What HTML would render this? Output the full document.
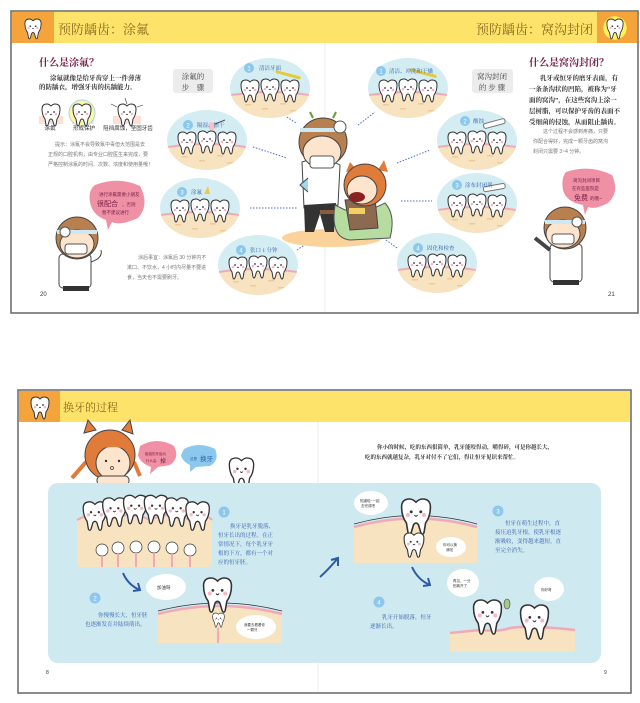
<!DOCTYPE html>
<html><head><meta charset="utf-8"><style>
html,body{margin:0;padding:0;background:#fff;}
svg{display:block;font-family:"Liberation Sans","Noto Sans CJK SC",sans-serif;}
.t{font-family:"Liberation Serif","Noto Serif CJK SC",serif;}
</style></head><body>
<svg width="640" height="703" viewBox="0 0 640 703" xmlns="http://www.w3.org/2000/svg">
<defs>
<path id="tooth" d="M1,5 Q1,0 6,0 Q8,0 10,2 Q12,0 14,0 Q19,0 19,5 Q19,11 16,15 L15,21 Q14,23 13,21 L11.5,16 Q10,14 8.5,16 L7,21 Q6,23 5,21 L4,15 Q1,11 1,5Z" fill="#fff" stroke="#333" stroke-width="1"/>
<g id="face"><circle cx="7" cy="8" r="0.9" fill="#333"/><circle cx="13" cy="8" r="0.9" fill="#333"/><path d="M9,10 Q10,11.5 11,10" fill="none" stroke="#333" stroke-width="0.7"/><circle cx="5" cy="10" r="1.3" fill="#f6b8c4"/><circle cx="15" cy="10" r="1.3" fill="#f6b8c4"/></g>
<g id="tf"><use href="#tooth"/><use href="#face"/></g>
<clipPath id="ell"><ellipse cx="0" cy="0" rx="40" ry="30"/></clipPath>
<g id="bub">
 <ellipse cx="0" cy="0" rx="40" ry="30" fill="#d3edf3"/>
 <g clip-path="url(#ell)">
  <path d="M-45,8 Q0,0 45,8 L45,40 L-45,40Z" fill="#f8e3c0"/>
  <path d="M-45,8 Q0,0 45,8" fill="none" stroke="#f2a9b7" stroke-width="2"/>
  <g fill="#efc99a"><rect x="-25" y="16" width="6" height="1.5"/><rect x="-8" y="20" width="6" height="1.5"/><rect x="10" y="15" width="6" height="1.5"/><rect x="20" y="22" width="6" height="1.5"/></g>
 </g>
 <use href="#tf" x="-30" y="-8"/><use href="#tf" x="-10" y="-9"/><use href="#tf" x="10" y="-8"/>
</g>
</defs>

<!-- ============ TOP SPREAD ============ -->
<rect x="11" y="11" width="627" height="302" fill="#fff" stroke="#666" stroke-width="1.5"/>
<rect x="12" y="12" width="625" height="31" fill="#fde36a"/>
<rect x="12" y="12" width="42" height="31" fill="#f4a43a"/>
<rect x="597" y="12" width="40" height="31" fill="#f4a43a"/>
<g transform="translate(24,19) scale(0.9)"><use href="#tf"/></g>
<g transform="translate(606,19) scale(0.9)"><circle cx="10" cy="10" r="13" fill="#fff35a"/><use href="#tf"/></g>
<text x="58" y="34" class="t" font-size="13" fill="#8a6a1e">预防龋齿：涂氟</text>
<text x="593" y="34" class="t" font-size="13" fill="#8a6a1e" text-anchor="end">预防龋齿：窝沟封闭</text>
<line x1="325" y1="43" x2="325" y2="312" stroke="#eee"/>

<text x="39" y="66" class="t" font-size="10" font-weight="bold" fill="#7a2048">什么是涂氟？</text>
<text x="50" y="80" class="t" font-size="6.5" fill="#333" font-weight="bold">涂氟就像是给牙齿穿上一件薄薄</text>
<text x="39" y="89" class="t" font-size="6.5" fill="#333" font-weight="bold">的防龋衣，增强牙齿的抗龋能力。</text>
<g transform="translate(41,104)"><path d="M-2,12 L22,12 L22,20 L-2,20Z" fill="#fbe0d8"/><use href="#tf"/></g>
<g transform="translate(72,104)"><path d="M0,12 L22,12 L22,20 L0,20Z" fill="#fbe0d8"/><circle cx="10" cy="9" r="13" fill="#fff6a0" stroke="#9fd6f0"/><use href="#tf"/></g>
<g transform="translate(117,104)"><path d="M-4,12 L24,12 L24,20 L-4,20Z" fill="#fbe0d8"/><use href="#tf"/><g stroke="#333" stroke-width="0.6"><line x1="0" y1="3" x2="-6" y2="0"/><line x1="20" y1="3" x2="26" y2="1"/><line x1="10" y1="0" x2="8" y2="-6"/></g></g>
<text x="50" y="130" font-size="5.5" fill="#333" text-anchor="middle">涂氟</text>
<text x="84" y="130" font-size="5.5" fill="#333" text-anchor="middle">形成保护</text>
<text x="128" y="130" font-size="5.5" fill="#333" text-anchor="middle">阻挡腐蚀，坚固牙齿</text>
<g font-size="5" fill="#777"><text x="55" y="146">提示：涂氟不会导致氟中毒但大范围是去</text><text x="48" y="156">正规的口腔机构，由专业口腔医生来完成，要</text><text x="48" y="166">严格控制涂氟的时间、次数、浓度和使用量哦！</text></g>
<path d="M95,185 Q118,176 140,186 Q150,205 138,218 Q120,226 112,222 L108,230 L106,220 Q92,215 90,202 Q88,190 95,185Z" fill="#ef90a5"/>
<g font-size="4.5" fill="#7a2048"><text x="99" y="196">进行涂氟需要小朋友</text><text x="97" y="206" font-size="7">很配合</text><text x="122" y="206">，否则</text><text x="102" y="214">暂不建议进行</text></g>
<g transform="translate(77,238)">
 <rect x="-18" y="16" width="32" height="34" rx="4" fill="#fff" stroke="#444"/>
 <rect x="-14" y="48" width="26" height="5" fill="#333"/>
 <path d="M14,24 Q26,20 24,12" stroke="#444" fill="#fff"/>
 <circle cx="0" cy="0" r="21" fill="#b9804f" stroke="#444"/>
 <ellipse cx="0" cy="6" rx="17" ry="14" fill="#fde5cd" stroke="#444"/>
 <rect x="-12" y="6" width="22" height="10" rx="3" fill="#fff" stroke="#555"/>
 <rect x="-20" y="-8" width="40" height="4" fill="#cde9f5"/>
 <circle cx="-12" cy="-6" r="5" fill="#fff" stroke="#555"/>
</g>
<g font-size="5" fill="#777"><text x="138" y="259">涂后事宜：涂氟后 30 分钟内不</text><text x="127" y="269">漱口、不饮水，4 小时内尽量不要进</text><text x="127" y="279">食，当天也不需要刷牙。</text></g>
<text x="40" y="296" font-size="6" fill="#333">20</text>

<rect x="173" y="69" width="40" height="24" rx="3" fill="#ececec"/>
<text x="193" y="79" class="t" font-size="7.5" fill="#444" text-anchor="middle">涂氟的</text>
<text x="193" y="90" class="t" font-size="7.5" fill="#444" text-anchor="middle">步　骤</text>
<rect x="472" y="69" width="41" height="24" rx="3" fill="#ececec"/>
<text x="492" y="79" class="t" font-size="7.5" fill="#444" text-anchor="middle">窝沟封闭</text>
<text x="492" y="90" class="t" font-size="7.5" fill="#444" text-anchor="middle">的 步 骤</text>

<g stroke="#4a6fc0" stroke-width="1" stroke-dasharray="1.5,1.5" fill="none">
<line x1="287" y1="117" x2="296" y2="123"/><line x1="253" y1="147" x2="287" y2="158"/>
<line x1="250" y1="208" x2="297" y2="208"/><line x1="297" y1="250" x2="312" y2="240"/>
<line x1="358" y1="125" x2="375" y2="112"/><line x1="397" y1="163" x2="430" y2="150"/>
<line x1="401" y1="201" x2="432" y2="201"/><line x1="386" y1="240" x2="397" y2="248"/>
</g>

<g transform="translate(270,88)"><use href="#bub"/><rect x="6" y="-18" width="26" height="3" rx="1.5" fill="#e5c93c" transform="rotate(15 6 -18)"/></g>
<g transform="translate(207,140)"><use href="#bub"/><circle cx="5" cy="-14" r="4" fill="#f2c5c8"/><line x1="8" y1="-16" x2="18" y2="-20" stroke="#555"/></g>
<g transform="translate(200,208)"><use href="#bub"/><path d="M4,-14 L8,-22 L10,-14Z" fill="#f0c94a"/></g>
<g transform="translate(258,265)"><use href="#bub"/></g>
<g transform="translate(408,88)"><use href="#bub"/><rect x="2" y="-20" width="28" height="3" rx="1.5" fill="#e5c93c" transform="rotate(15 2 -20)"/></g>
<g transform="translate(477,140)"><use href="#bub"/><rect x="6" y="-16" width="22" height="5" rx="2" fill="#fff" stroke="#777" transform="rotate(-15 6 -16)"/></g>
<g transform="translate(477,203)"><use href="#bub"/><rect x="6" y="-16" width="22" height="5" rx="2" fill="#fff" stroke="#777" transform="rotate(-10 6 -16)"/></g>
<g transform="translate(437,263)"><use href="#bub"/></g>
<g font-size="6" fill="#fff" text-anchor="middle">
<circle cx="249" cy="68" r="5" fill="#8cc8ee"/><text x="249" y="70.5">1</text>
<circle cx="188" cy="125" r="5" fill="#8cc8ee"/><text x="188" y="127.5">2</text>
<circle cx="182" cy="192" r="5" fill="#8cc8ee"/><text x="182" y="194.5">3</text>
<circle cx="241" cy="250" r="5" fill="#8cc8ee"/><text x="241" y="252.5">4</text>
<circle cx="381" cy="71" r="5" fill="#8cc8ee"/><text x="381" y="73.5">1</text>
<circle cx="465" cy="121" r="5" fill="#8cc8ee"/><text x="465" y="123.5">2</text>
<circle cx="457" cy="185" r="5" fill="#8cc8ee"/><text x="457" y="187.5">3</text>
<circle cx="418" cy="248" r="5" fill="#8cc8ee"/><text x="418" y="250.5">4</text>
</g>
<g font-size="5.5" fill="#2f5fa8" class="t">
<text x="259" y="70">清洁牙面</text><text x="197" y="127">隔湿、擦干</text><text x="191" y="194">涂氟</text><text x="250" y="252">张口 1 分钟</text>
<text x="389" y="73">清洁、冲洗和干燥</text><text x="473" y="123">酸蚀</text><text x="465" y="187">涂布封闭剂</text><text x="427" y="250">固化和检查</text>
</g>

<!-- central dentist + kid -->
<ellipse cx="332" cy="238" rx="50" ry="9" fill="#fbd39a"/>
<path d="M302,162 Q322,155 340,165 L338,205 L304,208Z" fill="#fff" stroke="#444"/>
<path d="M304,205 L336,203 L334,232 L325,232 L320,214 L314,232 L305,232Z" fill="#333"/>
<path d="M308,178 L300,185 L308,192" fill="#9fd6f0" stroke="#444"/>
<rect x="320" y="210" width="20" height="4" fill="#8a5a3a"/>
<path d="M335,205 Q330,238 350,240 L390,238 Q396,215 385,203 L370,210 L345,210Z" fill="#b7dca0" stroke="#555"/>
<path d="M345,200 L375,198 L378,228 L350,230Z" fill="#8b6a50" stroke="#444"/>
<circle cx="323" cy="142" r="24" fill="#b9804f" stroke="#444"/>
<ellipse cx="322" cy="152" rx="19" ry="16" fill="#fde5cd" stroke="#444"/>
<rect x="310" y="156" width="24" height="12" rx="3" fill="#fff" stroke="#555"/>
<rect x="300" y="128" width="46" height="4" fill="#cde9f5"/>
<circle cx="340" cy="127" r="6" fill="#fff" stroke="#555"/>
<line x1="313" y1="118" x2="310" y2="112" stroke="#6a9a3a" stroke-width="2"/><line x1="333" y1="118" x2="336" y2="112" stroke="#6a9a3a" stroke-width="2"/>
<path d="M346,172 L350,162 L357,170Z" fill="#e07b3a"/><path d="M378,170 L384,160 L388,172Z" fill="#e07b3a"/>
<circle cx="365" cy="185" r="21" fill="#e07b3a" stroke="#444"/>
<ellipse cx="362" cy="190" rx="15" ry="14" fill="#fde5cd" stroke="#444"/>
<ellipse cx="357" cy="197" rx="8" ry="5" fill="#8a2020"/>
<rect x="349" y="208" width="16" height="6" fill="#f5d060"/>

<text x="529" y="66" class="t" font-size="10" font-weight="bold" fill="#7a2048">什么是窝沟封闭？</text>
<g class="t" font-size="6.5" fill="#333" font-weight="bold">
<text x="540" y="80">乳牙或恒牙的磨牙表面，有</text><text x="529" y="91">一条条沟状的凹陷，被称为“牙</text><text x="529" y="102">面的窝沟”，在这些窝沟上涂一</text><text x="529" y="113">层树脂，可以保护牙齿的表面不</text><text x="529" y="124">受细菌的侵蚀，从而阻止龋齿。</text></g>
<g font-size="5" fill="#777"><text x="543" y="133">这个过程不会感到疼痛，只要</text><text x="533" y="143">你配合得好，完成一颗牙齿的窝沟</text><text x="533" y="153">封闭只需要 3~4 分钟。</text></g>
<path d="M566,172 Q590,164 612,175 Q620,192 608,203 Q595,210 588,207 L585,215 L583,205 Q566,202 563,190 Q561,178 566,172Z" fill="#ef90a5"/>
<g font-size="4.5" fill="#7a2048"><text x="573" y="182">窝沟封闭项目</text><text x="572" y="190">在有些医院是</text><text x="574" y="200" font-size="7">免费</text><text x="590" y="200">的哦~</text></g>
<g transform="translate(565,228)">
 <rect x="-15" y="16" width="32" height="38" rx="4" fill="#fff" stroke="#444"/>
 <rect x="-12" y="52" width="26" height="5" fill="#333"/>
 <path d="M-15,22 L-30,10" stroke="#444" stroke-width="4"/>
 <circle cx="0" cy="0" r="21" fill="#b9804f" stroke="#444"/>
 <ellipse cx="-2" cy="6" rx="17" ry="14" fill="#fde5cd" stroke="#444"/>
 <rect x="-13" y="6" width="22" height="10" rx="3" fill="#fff" stroke="#555"/>
 <rect x="-20" y="-8" width="40" height="4" fill="#cde9f5"/>
 <circle cx="12" cy="-6" r="5" fill="#fff" stroke="#555"/>
</g>
<text x="608" y="296" font-size="6" fill="#333">21</text>

<!-- ============ BOTTOM SPREAD ============ -->
<rect x="18" y="390" width="613" height="303" fill="#fff" stroke="#666" stroke-width="1.5"/>
<rect x="19" y="391" width="611" height="31" fill="#fde36a"/>
<rect x="19" y="391" width="41" height="31" fill="#f4a43a"/>
<g transform="translate(30,397)"><use href="#tf"/></g>
<text x="63" y="411" class="t" font-size="11" fill="#8a6a1e">换牙的过程</text>
<line x1="318" y1="422" x2="318" y2="692" stroke="#eee"/>
<path d="M84,433 L88,420 L96,430Z" fill="#e07b3a" stroke="#444"/><path d="M122,430 L130,420 L133,434Z" fill="#e07b3a" stroke="#444"/>
<path d="M86,462 L72,478" stroke="#e07b3a" stroke-width="4"/><path d="M134,462 L140,476" stroke="#e07b3a" stroke-width="4"/>
<circle cx="110" cy="455" r="25" fill="#e07b3a" stroke="#444"/>
<ellipse cx="113" cy="463" rx="17" ry="17" fill="#fde5cd" stroke="#444"/>
<path d="M96,440 Q112,432 130,442 L130,450 Q112,444 96,450Z" fill="#e07b3a"/>
<circle cx="106" cy="461" r="1.2" fill="#333"/><circle cx="119" cy="461" r="1.2" fill="#333"/><circle cx="112" cy="468" r="1.5" fill="none" stroke="#333" stroke-width="0.7"/>
<rect x="97" y="476" width="32" height="9" rx="4" fill="#fde5cd" stroke="#444"/>
<path d="M140,446 Q157,436 174,446 Q180,458 170,465 L158,467 L150,474 L151,467 Q140,463 138,455Z" fill="#ef90a5"/>
<text x="145" y="455" font-size="3.5" fill="#7a2048">姐姐的牙齿为</text><text x="146" y="462" font-size="3.5" fill="#7a2048">什么会</text><text x="160" y="463" font-size="6" fill="#7a2048">掉</text>
<path d="M184,449 Q199,441 215,449 Q220,460 210,466 L196,467 L190,472 L190,465 Q182,461 181,455Z" fill="#8cc8ee"/>
<text x="190" y="460" font-size="3.5" fill="#2f5fa8">这是</text><text x="200" y="461" font-size="6.5" fill="#2f5fa8">换牙</text>
<g transform="translate(228,458) scale(1.35)"><use href="#tf"/></g>
<g font-size="5.5" fill="#333" class="t" font-weight="bold"><text x="377" y="449">你小的时候，吃的东西很简单，乳牙能咬得动，嚼得碎，可是你越长大，</text><text x="365" y="459">吃的东西就越复杂，乳牙对付不了它们，得让恒牙见识来帮忙。</text></g>

<rect x="48" y="483" width="553" height="180" rx="10" fill="#cfe9f1"/>
<rect x="77" y="518" width="135" height="49" rx="3" fill="#f8e3c0"/>
<path d="M77,520 Q95,510 110,520 Q130,510 150,520 Q170,510 190,520 Q205,512 212,520" fill="none" stroke="#f2a9b7" stroke-width="2"/>
<g transform="scale(1.3)">
<use href="#tf" x="63" y="386"/><use href="#tf" x="78" y="383"/><use href="#tf" x="94" y="381"/><use href="#tf" x="110" y="381"/><use href="#tf" x="126" y="383"/><use href="#tf" x="142" y="386"/>
</g>
<g fill="#fff" stroke="#333" stroke-width="0.7">
<circle cx="102" cy="550" r="6"/><circle cx="118" cy="548" r="6"/><circle cx="136" cy="547" r="6"/><circle cx="154" cy="547" r="6"/><circle cx="172" cy="548" r="6"/><circle cx="190" cy="550" r="6"/></g>
<g stroke="#f2a9b7" stroke-width="2"><line x1="102" y1="556" x2="102" y2="567"/><line x1="118" y1="554" x2="118" y2="567"/><line x1="136" y1="553" x2="136" y2="567"/><line x1="154" y1="553" x2="154" y2="567"/><line x1="172" y1="554" x2="172" y2="567"/><line x1="190" y1="556" x2="190" y2="567"/></g>
<g font-size="6" fill="#fff" text-anchor="middle"><circle cx="224" cy="512" r="5.5" fill="#8cc8ee"/><text x="224" y="514.5">1</text>
<circle cx="95" cy="598" r="5.5" fill="#8cc8ee"/><text x="95" y="600.5">2</text>
<circle cx="498" cy="511" r="5.5" fill="#8cc8ee"/><text x="498" y="513.5">3</text>
<circle cx="379" cy="602" r="5.5" fill="#8cc8ee"/><text x="379" y="604.5">4</text></g>
<g font-size="5.5" fill="#2f5fa8" class="t">
<text x="230" y="528">换牙是乳牙脱落、</text><text x="218" y="537">恒牙长出的过程。在正</text><text x="218" y="546">常情况下，每个乳牙牙</text><text x="218" y="555">根的下方，都有一个对</text><text x="218" y="564">应的恒牙胚。</text>
<text x="98" y="617">你慢慢长大，恒牙胚</text><text x="85" y="626">也逐渐发育并陆续萌出。</text>
<text x="505" y="525">恒牙在萌生过程中，直</text><text x="495" y="534">接压迫乳牙根，使乳牙根逐</text><text x="495" y="543">渐吸收，变得越来越短，直</text><text x="495" y="552">至完全消失。</text>
<text x="382" y="619">乳牙开始脱落，恒牙</text><text x="370" y="628">逐渐长出。</text></g>
<g stroke="#2d5aa8" stroke-width="2" fill="none">
<path d="M123,573 Q128,585 140,590"/><path d="M133,591 L140,590 L138,583"/>
<path d="M320,577 Q328,570 338,558"/><path d="M331,560 L338,558 L338,566"/>
<path d="M412,567 Q418,580 430,585"/><path d="M423,586 L430,585 L428,578"/>
</g>
<path d="M158,614 Q220,598 282,614 L282,643 L158,643Z" fill="#f8e3c0"/>
<path d="M158,614 Q220,598 282,614" fill="none" stroke="#f2a9b7" stroke-width="2.5"/>
<path d="M158,611 Q220,595 282,611" fill="none" stroke="#333" stroke-width="0.8"/>
<g transform="translate(202,578) scale(1.55)"><use href="#tf"/></g>
<g transform="translate(212,613) scale(0.65)"><use href="#tf"/></g>
<line x1="218" y1="628" x2="218" y2="643" stroke="#f2a9b7" stroke-width="2"/>
<ellipse cx="166" cy="587" rx="20" ry="13" fill="#fff"/><text x="157" y="589" font-size="4.5" fill="#333">加油呀</text>
<ellipse cx="256" cy="627" rx="20" ry="12" fill="#fff"/><text x="244" y="626" font-size="3.5" fill="#333">我要去看看你</text><text x="247" y="631" font-size="3.5" fill="#333">一颗牙</text>
<path d="M354,527 Q415,510 477,527 L477,563 L354,563Z" fill="#f8e3c0"/>
<path d="M354,527 Q415,510 477,527" fill="none" stroke="#f2a9b7" stroke-width="2.5"/>
<path d="M354,524 Q415,507 477,524" fill="none" stroke="#333" stroke-width="0.8"/>
<g transform="translate(400,499) scale(1.6)"><use href="#tf"/></g>
<g transform="translate(403,533) scale(1.1)"><use href="#tf"/></g>
<ellipse cx="371" cy="503" rx="17" ry="12" fill="#fff"/><text x="360" y="502" font-size="3.5" fill="#333">知道啦~一起</text><text x="361" y="507" font-size="3.5" fill="#333">去完成吧</text>
<ellipse cx="451" cy="547" rx="15" ry="10" fill="#fff"/><text x="443" y="546" font-size="3.5" fill="#333">你可以换</text><text x="446" y="551" font-size="3.5" fill="#333">我啦</text>
<path d="M450,633 L480,630 Q500,632 510,628 Q530,625 575,630 L575,652 L450,652Z" fill="#f8e3c0"/>
<path d="M450,633 L480,630 Q500,632 510,628 Q530,625 575,630" fill="none" stroke="#f2a9b7" stroke-width="2.5"/>
<g transform="translate(472,600) scale(1.55)"><use href="#tf"/></g>
<g transform="translate(519,605) scale(1.55)"><use href="#tf"/></g>
<ellipse cx="507" cy="604" rx="3" ry="5" fill="#a9c98a" stroke="#444" stroke-width="0.6"/>
<ellipse cx="463" cy="583" rx="16" ry="14" fill="#fff"/><text x="453" y="582" font-size="3.5" fill="#333">再见，一分</text><text x="453" y="587" font-size="3.5" fill="#333">别离开了</text>
<ellipse cx="549" cy="589" rx="15" ry="12" fill="#fff"/><text x="541" y="591" font-size="3.5" fill="#333">你好呀</text>
<text x="46" y="674" font-size="5" fill="#333">8</text>
<text x="604" y="674" font-size="5" fill="#333">9</text>
</svg>
</body></html>
